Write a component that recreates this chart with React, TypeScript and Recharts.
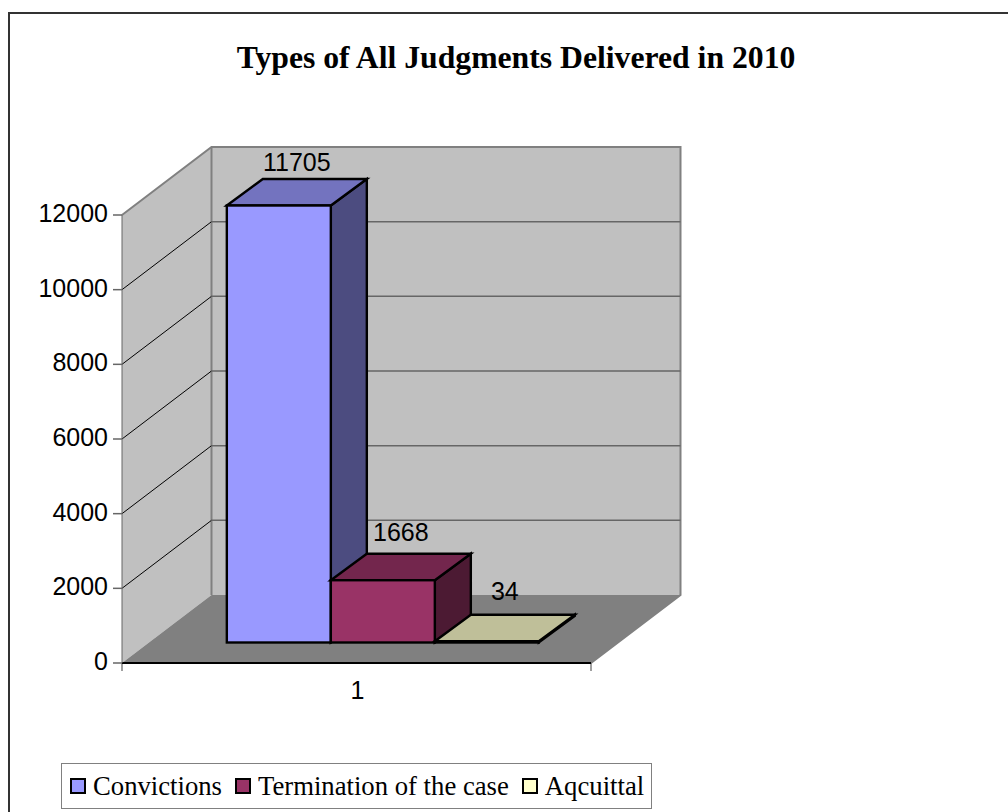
import React from "react";
import { BarChart, Bar, XAxis, YAxis, ReferenceArea, ReferenceLine, LabelList, Legend } from "recharts";

const categories = ["1"];
const seriesNames = ["Convictions", "Termination of the case", "Aqcuittal"];
const convictions = [11705];
const termination = [1668];
const acquittal = [34];
const yTicks = [0, 2000, 4000, 6000, 8000, 10000, 12000];
const titleText = "Types of All Judgments Delivered in 2010";

const data = categories.map((c, i) => ({
  name: c,
  [seriesNames[0]]: convictions[i],
  [seriesNames[1]]: termination[i],
  [seriesNames[2]]: acquittal[i],
}));

const fills = [
  { front: "#9999FF", top: "#7373BF", side: "#4C4C80" },
  { front: "#993366", top: "#73264D", side: "#4C1A33" },
  { front: "#FFFFCC", top: "#BFBF99", side: "#808066" },
];
const labelLift = [8, 13, 15];

const WALL_DX = 89.5;
const WALL_DY = 68;
const BAR_SHIFT_X = 26.5;
const BAR_SHIFT_Y = 20.5;
const BAR_DX = 36;
const BAR_DY = 26.5;
const SANS = "'Liberation Sans', Arial, sans-serif";
const SERIF = "'Liberation Serif', 'Times New Roman', serif";

const pts = (a: number[][]) => a.map((p) => p.join(",")).join(" ");

function Walls(props: any) {
  const { x, y, width, height } = props;
  const r = x + width;
  const b = y + height;
  const d = WALL_DX;
  const h = WALL_DY;
  return (
    <g>
      <polygon points={pts([[x, y], [x + d, y - h], [x + d, b - h], [x, b]])} fill="#C0C0C0" />
      <rect x={x + d} y={y - h} width={width} height={height} fill="#C0C0C0" />
      <polygon points={pts([[x, b], [x + d, b - h], [r + d, b - h], [r, b]])} fill="#808080" />
      <polyline points={pts([[x, y], [x + d, y - h], [r + d, y - h], [r + d, b - h], [r, b]])} fill="none" stroke="#808080" strokeWidth={2} />
      <line x1={x + d} y1={y - h} x2={x + d} y2={b - h} stroke="#808080" strokeWidth={2} />
      <line x1={x} y1={b} x2={x} y2={b + 8} stroke="#404040" strokeWidth={1} />
      <line x1={r} y1={b} x2={r} y2={b + 8} stroke="#404040" strokeWidth={1} />
    </g>
  );
}

function GridLine(props: any) {
  const { x1, y1, x2 } = props;
  const d = WALL_DX;
  const h = WALL_DY;
  return (
    <g>
      <line x1={x1} y1={y1} x2={x1 + d} y2={y1 - h} stroke="#000000" strokeWidth={1} />
      <line x1={x1 + d} y1={y1 - h} x2={x2 + d} y2={y1 - h} stroke="#666666" strokeWidth={1.5} />
    </g>
  );
}

function Box(props: any) {
  const { x, y, width, height, colors } = props;
  const l = x + BAR_SHIFT_X;
  const t = y - BAR_SHIFT_Y;
  const r = l + width;
  const b = t + height;
  const s = { stroke: "#000000", strokeWidth: 2.4, strokeLinejoin: "miter" as const };
  return (
    <g>
      <polygon points={pts([[r, t], [r + BAR_DX, t - BAR_DY], [r + BAR_DX, b - BAR_DY], [r, b]])} fill={colors.side} {...s} />
      <polygon points={pts([[l, t], [l + BAR_DX, t - BAR_DY], [r + BAR_DX, t - BAR_DY], [r, t]])} fill={colors.top} {...s} />
      <rect x={l} y={t} width={width} height={height} fill={colors.front} {...s} />
    </g>
  );
}

function ValueLabel(props: any) {
  const { x, y, width, value, lift } = props;
  return (
    <text
      x={x + BAR_SHIFT_X + width / 2 + BAR_DX / 2}
      y={y - BAR_SHIFT_Y - BAR_DY - lift}
      textAnchor="middle"
      fontFamily={SANS}
      fontSize={25}
      fill="#000000"
    >
      {value}
    </text>
  );
}

function LegendBox(props: any) {
  const items = props.payload || [];
  return (
    <div
      style={{
        boxSizing: "border-box",
        width: 591,
        height: 46,
        border: "1px solid #808080",
        background: "#fff",
        display: "flex",
        alignItems: "center",
        paddingLeft: 8,
        fontFamily: SERIF,
        fontSize: 26.7,
        color: "#000",
        whiteSpace: "nowrap",
      }}
    >
      {items.map((it: any, i: number) => (
        <span key={i} style={{ display: "inline-flex", alignItems: "center", marginRight: 13 }}>
          <span
            style={{
              boxSizing: "border-box",
              display: "inline-block",
              width: 16,
              height: 16,
              border: "2px solid #000",
              background: it.color,
              marginRight: 7,
            }}
          />
          {it.value}
        </span>
      ))}
    </div>
  );
}

export default function App() {
  return (
    <div style={{ position: "fixed", left: 0, top: 0, width: 1008, height: 812, background: "#fff", overflow: "hidden" }}>
      <div style={{ position: "absolute", left: 8, top: 12, right: 0, bottom: 0, borderLeft: "2px solid #333", borderTop: "2px solid #333" }} />
      <div
        style={{
          position: "absolute",
          left: 166,
          width: 700,
          top: 40,
          textAlign: "center",
          fontFamily: SERIF,
          fontWeight: 700,
          fontSize: 31.7,
          lineHeight: "36px",
          whiteSpace: "nowrap",
          color: "#000",
        }}
      >
        {titleText}
      </div>
      <div style={{ position: "absolute", left: 0, top: 0 }}>
        <BarChart
          width={1008}
          height={812}
          data={data}
          margin={{ top: 215, left: 62, right: 417, bottom: 119 }}
          barCategoryGap="16.7%"
          barGap={0}
        >
          <XAxis
            dataKey="name"
            height={30}
            axisLine={{ stroke: "#000", strokeWidth: 2 }}
            tickLine={false}
            tick={{ fontFamily: SANS, fontSize: 25, fill: "#000", dx: 1 }}
            tickMargin={12}
          />
          <YAxis
            width={60}
            domain={[0, 12000]}
            ticks={yTicks}
            interval={0}
            axisLine={{ stroke: "#666", strokeWidth: 1 }}
            tickLine={{ stroke: "#666", strokeWidth: 1.5 }}
            tickSize={9}
            tickMargin={5}
            tick={{ fontFamily: SANS, fontSize: 25, fill: "#000", dy: -2 }}
          />
          <ReferenceArea y1={0} y2={12000} shape={Walls} zIndex={-50} ifOverflow="visible" />
          {yTicks
            .filter((v) => v > 0 && v < 12000)
            .map((v) => (
              <ReferenceLine key={v} y={v} shape={GridLine} zIndex={-40} ifOverflow="visible" />
            ))}
          {seriesNames.map((n, i) => (
            <Bar
              key={n}
              dataKey={n}
              fill={fills[i].front}
              isAnimationActive={false}
              shape={(p: any) => <Box {...p} colors={fills[i]} />}
            >
              <LabelList dataKey={n} content={(p: any) => <ValueLabel {...p} lift={labelLift[i]} />} />
            </Bar>
          ))}
          <Legend
            layout="horizontal"
            verticalAlign="middle"
            itemSorter={null}
            content={LegendBox}
            wrapperStyle={{ position: "absolute", left: 61, top: 763, width: 591, height: 46 }}
          />
        </BarChart>
      </div>
    </div>
  );
}
